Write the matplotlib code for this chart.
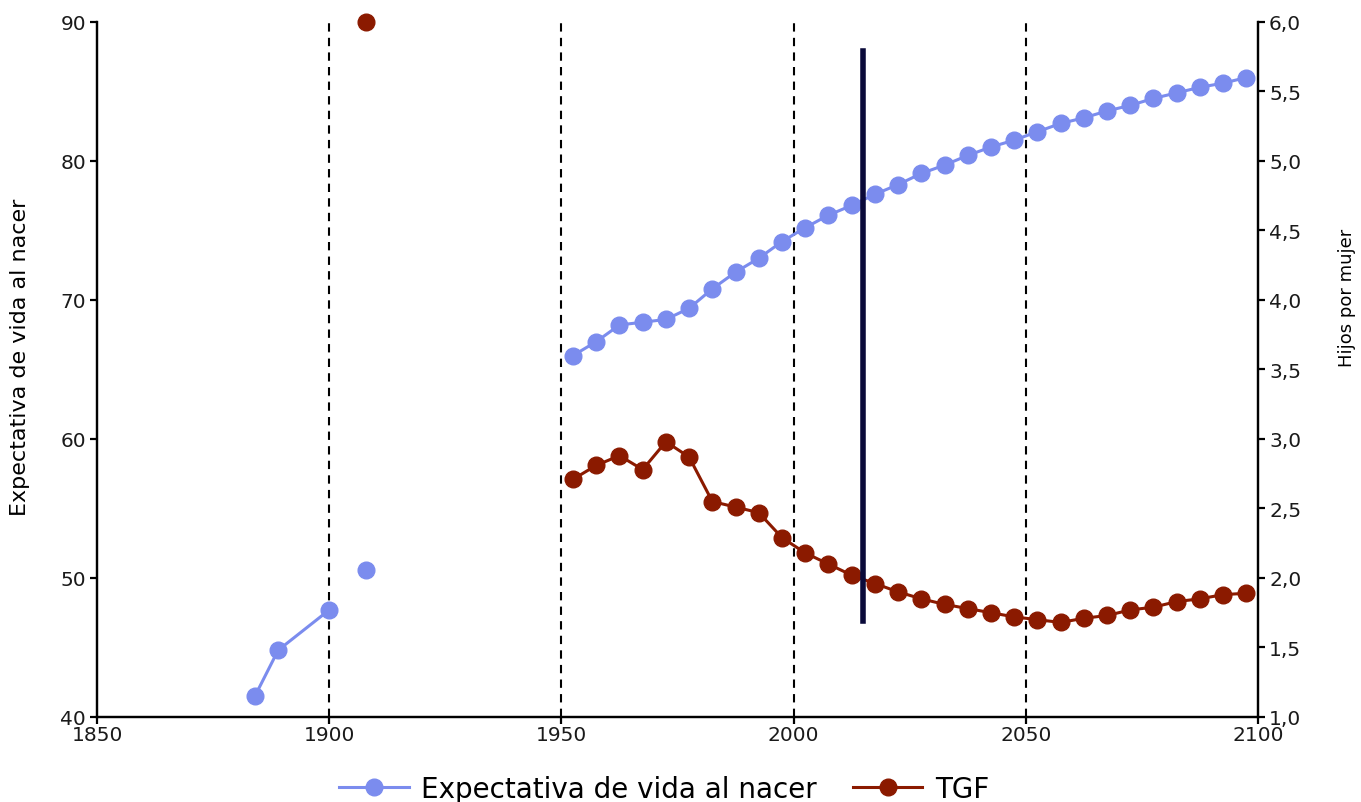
import matplotlib
matplotlib.use("Agg")
import matplotlib.pyplot as plt
from matplotlib.ticker import FuncFormatter, MultipleLocator
from matplotlib.lines import Line2D
import numpy as np

# ---- data ----
early_years = [1884, 1889, 1900, 1908]
early_life = [41.5, 44.8, 47.7, np.nan]
isolated_life_year = [1908]
isolated_life = [50.6]
isolated_tgf_year = [1908]
isolated_tgf = [6.0]

years = [1952.5, 1957.5, 1962.5, 1967.5, 1972.5, 1977.5, 1982.5, 1987.5, 1992.5, 1997.5,
         2002.5, 2007.5, 2012.5, 2017.5, 2022.5, 2027.5, 2032.5, 2037.5, 2042.5, 2047.5,
         2052.5, 2057.5, 2062.5, 2067.5, 2072.5, 2077.5, 2082.5, 2087.5, 2092.5, 2097.5]
life = [66.0, 67.0, 68.2, 68.4, 68.6, 69.4, 70.8, 72.0, 73.0, 74.2,
        75.2, 76.1, 76.8, 77.6, 78.3, 79.1, 79.7, 80.4, 81.0, 81.5,
        82.1, 82.7, 83.1, 83.6, 84.0, 84.5, 84.9, 85.3, 85.6, 86.0]
tgf = [2.71, 2.81, 2.88, 2.78, 2.98, 2.87, 2.55, 2.51, 2.47, 2.29,
       2.18, 2.10, 2.02, 1.96, 1.90, 1.85, 1.81, 1.78, 1.75, 1.72,
       1.70, 1.68, 1.71, 1.73, 1.77, 1.79, 1.83, 1.85, 1.88, 1.89]

dashed_years = [1900, 1950, 2000, 2050]
marker_year = 2015
marker_span = [46.9, 87.9]

x_ticks = [1850, 1900, 1950, 2000, 2050, 2100]
label_left = "Expectativa de vida al nacer"
label_right = "Hijos por mujer"
legend_labels = ["Expectativa de vida al nacer", "TGF"]

# ---- style ----
plt.rcParams['font.family'] = ['DejaVu Sans']
blue = "#7b8cee"
red = "#8b1a00"

fig = plt.figure(figsize=(13.61, 8.03), dpi=100)
ax = fig.add_axes([0.0713, 0.1059, 0.9243 - 0.0713, 0.9714 - 0.1059])
ax2 = ax.twinx()

for yr in dashed_years:
    ax.axvline(yr, color="black", linestyle=(0, (4, 3)), linewidth=1.5, zorder=1)

ax.plot(early_years, early_life, color=blue, marker="o", markersize=12, linewidth=2.2, zorder=3)
ax.plot(isolated_life_year, isolated_life, color=blue, marker="o", markersize=12, linestyle="none", zorder=3)
ax.plot(years, life, color=blue, marker="o", markersize=12, linewidth=2.2, zorder=3)

ax2.plot(isolated_tgf_year, isolated_tgf, color=red, marker="o", markersize=12, linestyle="none", zorder=3, clip_on=False)
ax2.plot(years, tgf, color=red, marker="o", markersize=12, linewidth=2.2, zorder=3)

ax.plot([marker_year, marker_year], marker_span, color="#0a0a3a", linewidth=4, zorder=5)

ax.set_xlim(1850, 2100)
ax.set_ylim(40, 90)
ax2.set_ylim(1.0, 6.0)
ax.set_xticks(x_ticks)
ax.yaxis.set_major_locator(MultipleLocator(10))
ax2.yaxis.set_major_locator(MultipleLocator(0.5))
ax2.yaxis.set_major_formatter(FuncFormatter(lambda v, p: f"{v:.1f}".replace(".", ",")))

for a in (ax, ax2):
    a.spines['top'].set_visible(False)
    for s in a.spines.values():
        s.set_linewidth(1.6)
    a.tick_params(width=1.6, length=5, labelsize=14.5, labelcolor="#1a1a1a")
ax.tick_params(axis='x', pad=1)
ax.tick_params(axis='y', pad=3)
ax2.tick_params(axis='y', pad=3)

ax.set_ylabel(label_left, fontsize=16)
ax.yaxis.set_label_coords(-0.058, 0.519)
ax2.set_ylabel(label_right, fontsize=13)
ax2.yaxis.set_label_coords(1.069, 0.604)
ax.set_zorder(ax2.get_zorder() + 1)
ax.patch.set_visible(False)

handles = [Line2D([], [], color=blue, marker="o", markersize=12, linewidth=2.2),
           Line2D([], [], color=red, marker="o", markersize=12, linewidth=2.2)]
fig.legend(handles, legend_labels, loc="center", bbox_to_anchor=(0.488, 1 - 790 / 803),
           ncol=2, frameon=False, fontsize=20, handlelength=2.5, columnspacing=1.3,
           handletextpad=0.45)

fig.savefig("out.png", dpi=100)
